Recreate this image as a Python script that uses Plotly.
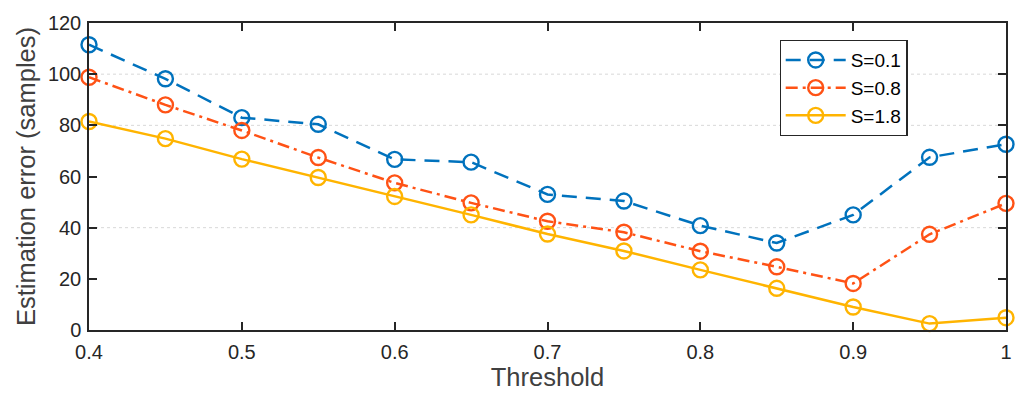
import plotly.graph_objects as go

threshold = [0.4, 0.45, 0.5, 0.55, 0.6, 0.65, 0.7, 0.75, 0.8, 0.85, 0.9, 0.95, 1.0]
s01 = [111.5, 98.2, 83.0, 80.4, 66.7, 65.6, 53.0, 50.4, 40.8, 34.0, 45.0, 67.5, 72.6]
s08 = [98.8, 88.0, 78.0, 67.4, 57.5, 49.7, 42.5, 38.2, 30.8, 24.7, 18.2, 37.4, 49.5]
s18 = [81.5, 74.8, 66.8, 59.6, 52.2, 45.0, 37.5, 30.9, 23.5, 16.3, 9.0, 2.5, 4.8]

series_names = ["S=0.1", "S=0.8", "S=1.8"]
series_colors = ["#0072BD", "#FF5215", "#FFB400"]
series_dash = ["15px,9px", "12px,5px,3px,5px", "solid"]
grid_levels = [40, 80, 100]

x_ticks = [0.4, 0.5, 0.6, 0.7, 0.8, 0.9, 1.0]
x_ticktext = ["0.4", "0.5", "0.6", "0.7", "0.8", "0.9", "1"]
y_ticks = [0, 20, 40, 60, 80, 100, 120]

FONT = "Liberation Sans, Arial, sans-serif"

fig = go.Figure()
for name, vals, col, dash in zip(series_names, [s01, s08, s18], series_colors, series_dash):
    fig.add_trace(go.Scatter(
        x=threshold, y=vals, name=name, mode="lines+markers",
        line=dict(color=col, width=2.5, dash=dash),
        marker=dict(symbol="circle-open", size=15, color=col, line=dict(width=2.4, color=col)),
        cliponaxis=False,
    ))

for g in grid_levels:
    fig.add_shape(type="line", xref="paper", x0=0, x1=1, yref="y", y0=g, y1=g,
                  line=dict(color="#d8d8d8", width=1, dash="dot"), layer="below")

axis_common = dict(
    showline=True, linecolor="#262626", linewidth=1.5, mirror="ticks",
    ticks="inside", ticklen=8, tickwidth=1.5, tickcolor="#262626",
    showgrid=False, zeroline=False,
    tickfont=dict(family=FONT, size=20, color="#262626"),
)

fig.update_xaxes(range=[0.4, 1.0], tickvals=x_ticks, ticktext=x_ticktext, ticklabelstandoff=3,
                 title=dict(text="Threshold", font=dict(family=FONT, size=25.5, color="#404040"), standoff=6),
                 **axis_common)
fig.update_yaxes(range=[0, 120], tickvals=y_ticks, ticklabelstandoff=2,
                 title=dict(text="Estimation error (samples)", font=dict(family=FONT, size=25.5, color="#404040"), standoff=5),
                 **axis_common)

fig.update_layout(
    width=1024, height=409,
    margin=dict(l=89, r=14, t=18, b=79),
    plot_bgcolor="white", paper_bgcolor="white",
    showlegend=True,
    legend=dict(x=0.753, y=0.945, xanchor="left", yanchor="top",
                bgcolor="white", bordercolor="#262626", borderwidth=1.2,
                font=dict(family=FONT, size=19, color="#000000"),
                tracegroupgap=0, itemwidth=60),
)

fig.write_html("out.html", config={"displayModeBar": False},
               post_script="document.body.style.margin='0';")
